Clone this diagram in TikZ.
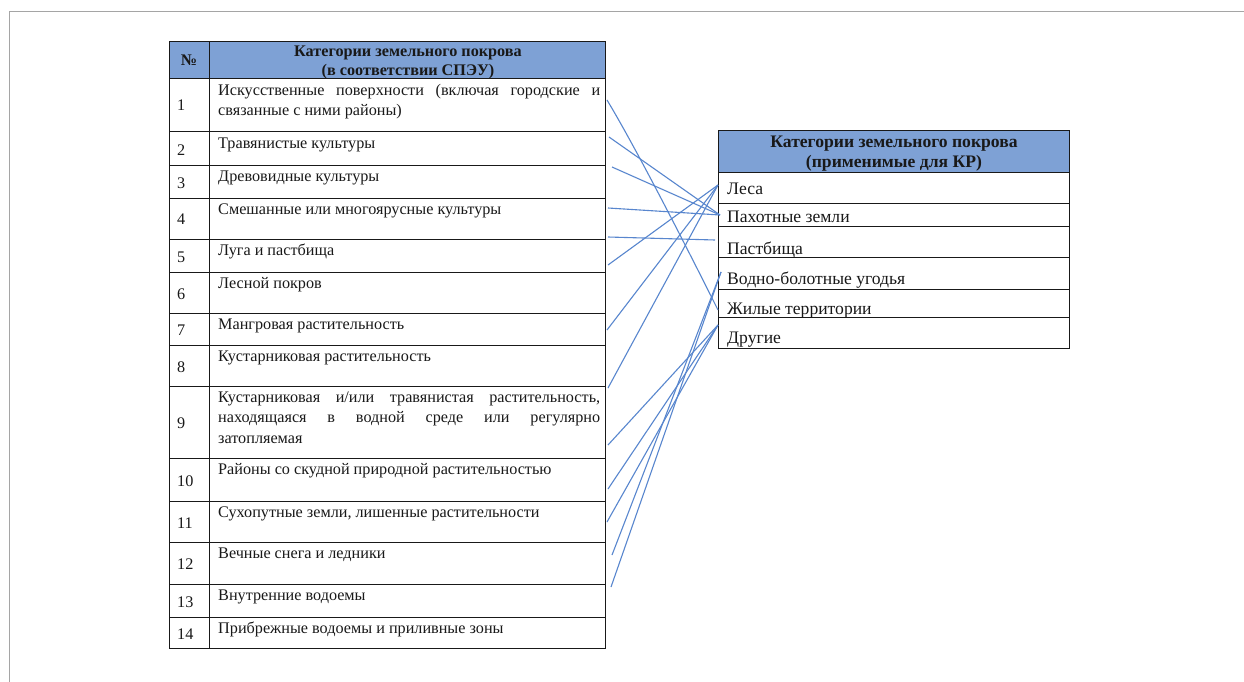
\documentclass[tikz,border=0pt]{standalone}
\usepackage{fontspec}
\setmainfont{Liberation Serif}
\definecolor{hdr}{RGB}{126,161,213}
\definecolor{lnk}{RGB}{88,134,206}
\definecolor{frm}{RGB}{165,165,165}
\definecolor{ink}{RGB}{25,25,25}
\begin{document}
\begin{tikzpicture}[x=1pt,y=-1pt,
  grid/.style={draw=ink, line width=1pt},
  ltxt/.style={anchor=base west, inner sep=0pt, text=ink, font=\fontsize{16.2}{20.8}\selectfont, align=left},
  lnum/.style={anchor=base west, inner sep=0pt, text=ink, font=\fontsize{16.2}{19}\selectfont},
  lhdr/.style={anchor=base, inner sep=0pt, text=ink, font=\bfseries\fontsize{16.2}{19}\selectfont},
  rtxt/.style={anchor=base west, inner sep=0pt, text=ink, font=\fontsize{17.6}{20}\selectfont},
  rhdr/.style={anchor=base, inner sep=0pt, text=ink, font=\bfseries\fontsize{17.6}{20}\selectfont},
  link/.style={draw=lnk, line width=1.1pt}]
\useasboundingbox (0,0) rectangle (1244,682);
\fill[white] (0,0) rectangle (1244,682);
% page frame
\draw[frm, line width=1.3pt] (1244,11.5) -- (9.5,11.5) -- (9.5,682);

% ---------- left table ----------
\fill[hdr] (169,42) rectangle (605,79);
\foreach \a/\b in {42/79,79/132,132/165,165/198,198/239,239/272,272/313,313/345,345/386,386/458,458/501,501/542,542/584,584/617,617/648}
  {\draw[grid] (169,\a) rectangle (605,\b);}
\draw[grid] (209,42) -- (209,648);

\node[lhdr] (hno) at (189,66) {№};
\node[lhdr] (hl1) at (408,57) {Категории земельного покрова};
\node[lhdr] (hl2) at (408,76) {(в соответствии СПЭУ)};

\foreach \n/\y in {1/111,2/155,3/188,4/224,5/262,6/299,7/335,8/372,9/428,10/486,11/528,12/569,13/607,14/639}
  {\node[lnum] (n\n) at (177,\y) {\n};}

\node[ltxt] (t1) at (218,115.8) {\makebox[382pt][s]{Искусственные поверхности (включая городские и}\\связанные с ними районы)};
\node[ltxt] (t2) at (218,148) {Травянистые культуры};
\node[ltxt] (t3) at (218,181) {Древовидные культуры};
\node[ltxt] (t4) at (218,214) {Смешанные или многоярусные культуры};
\node[ltxt] (t5) at (218,255) {Луга и пастбища};
\node[ltxt] (t6) at (218,288) {Лесной покров};
\node[ltxt] (t7) at (218,329) {Мангровая растительность};
\node[ltxt] (t8) at (218,361) {Кустарниковая растительность};
\node[ltxt] (t9) at (218,443.6) {\makebox[382pt][s]{Кустарниковая и/или травянистая растительность,}\\\makebox[382pt][s]{находящаяся в водной среде или регулярно}\\затопляемая};
\node[ltxt] (t10) at (218,474) {Районы со скудной природной растительностью};
\node[ltxt] (t11) at (218,517) {Сухопутные земли, лишенные растительности};
\node[ltxt] (t12) at (218,558) {Вечные снега и ледники};
\node[ltxt] (t13) at (218,600) {Внутренние водоемы};
\node[ltxt] (t14) at (218,633) {Прибрежные водоемы и приливные зоны};

% ---------- right table ----------
\fill[hdr] (718,131) rectangle (1069,172);
\foreach \a/\b in {131/172,172/203,203/226,226/257,257/289,289/317,317/348}
  {\draw[grid] (718,\a) rectangle (1069,\b);}
\node[rhdr] (hr1) at (894,147) {Категории земельного покрова};
\node[rhdr] (hr2) at (894,167) {(применимые для КР)};
\node[rtxt] (r1) at (727,194) {Леса};
\node[rtxt] (r2) at (727,222) {Пахотные земли};
\node[rtxt] (r3) at (727,254) {Пастбища};
\node[rtxt] (r4) at (727,284) {Водно-болотные угодья};
\node[rtxt] (r5) at (727,314) {Жилые территории};
\node[rtxt] (r6) at (727,343) {Другие};

% ---------- connector ends ----------
\coordinate (a1) at (607,100);
\coordinate (a2) at (609,137);
\coordinate (a3) at (612,167);
\coordinate (a4) at (608,208);
\coordinate (a5) at (608,237);
\coordinate (a6) at (608,265);
\coordinate (a7) at (607,330);
\coordinate (a8) at (608,388);
\coordinate (a9) at (608,445);
\coordinate (a10) at (608,489);
\coordinate (a11) at (607,522);
\coordinate (a12) at (612,555);
\coordinate (a13) at (611,587);
\coordinate (eLes) at (718,185);
\coordinate (ePah) at (720,215);
\coordinate (ePas) at (715,240);
\coordinate (eVod) at (721,272);
\coordinate (eZhi) at (718,310);
\coordinate (eDr) at (718,325);

\draw[link] (a1) .. controls (636,148) and (686,246) .. (eZhi);
\draw[link] (a2) -- (ePah);
\draw[link] (a3) -- (ePah);
\draw[link] (a4) -- (ePah);
\draw[link] (a5) -- (ePas);
\draw[link] (a6) -- (eLes);
\draw[link] (a7) -- (eLes);
\draw[link] (a8) -- (eLes);
\draw[link] (a9) -- (eDr);
\draw[link] (a10) -- (eDr);
\draw[link] (a11) -- (eDr);
\draw[link] (a12) -- (eVod);
\draw[link] (a13) -- (eVod);
\end{tikzpicture}
\end{document}
